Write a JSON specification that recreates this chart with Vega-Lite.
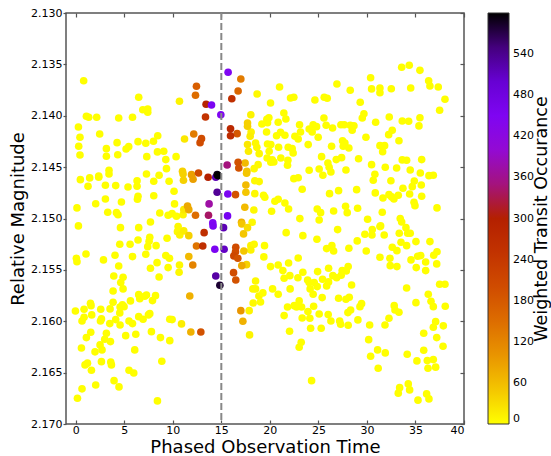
{
"$schema": "https://vega.github.io/schema/vega-lite/v6.json",
"width": 398, "height": 411,
"autosize": {"type": "none"},
"padding": {"left": 66, "top": 13, "right": 87, "bottom": 32},
"config": {"font": "DejaVu Sans", "view": {"stroke": "#555", "strokeWidth": 1.5}},
"data": {"values": [
{"t":0.82,"m":2.13659,"w":0},{"t":6.49,"m":2.13820,"w":0},{"t":1.10,"m":2.14005,"w":0},{"t":1.34,"m":2.14015,"w":0},{"t":2.16,"m":2.14015,"w":0},{"t":4.43,"m":2.14022,"w":0},{"t":5.85,"m":2.14015,"w":0},{"t":6.91,"m":2.13941,"w":0},{"t":7.42,"m":2.13934,"w":0},{"t":7.42,"m":2.13966,"w":0},
{"t":0.28,"m":2.14109,"w":0},{"t":0.44,"m":2.14209,"w":0},{"t":2.47,"m":2.14177,"w":0},{"t":8.45,"m":2.14194,"w":0},{"t":0.31,"m":2.14297,"w":0},{"t":0.44,"m":2.14382,"w":0},{"t":3.16,"m":2.14320,"w":0},{"t":4.26,"m":2.14262,"w":0},{"t":5.19,"m":2.14323,"w":0},{"t":5.46,"m":2.14301,"w":0},
{"t":6.42,"m":2.14252,"w":0},{"t":7.22,"m":2.14268,"w":0},{"t":8.01,"m":2.14248,"w":0},{"t":3.16,"m":2.14394,"w":0},{"t":4.33,"m":2.14379,"w":0},{"t":7.32,"m":2.14398,"w":0},{"t":8.42,"m":2.14352,"w":0},{"t":9.07,"m":2.14346,"w":0},{"t":9.28,"m":2.14427,"w":0},{"t":3.43,"m":2.14531,"w":0},
{"t":3.43,"m":2.14567,"w":0},{"t":9.35,"m":2.14515,"w":0},{"t":0.48,"m":2.14622,"w":0},{"t":1.44,"m":2.14605,"w":0},{"t":1.27,"m":2.14686,"w":0},{"t":2.37,"m":2.14586,"w":0},{"t":2.37,"m":2.14599,"w":0},{"t":3.06,"m":2.14676,"w":0},{"t":4.12,"m":2.14680,"w":0},{"t":5.39,"m":2.14693,"w":0},
{"t":6.32,"m":2.14632,"w":0},{"t":6.32,"m":2.14686,"w":0},{"t":7.29,"m":2.14567,"w":0},{"t":8.04,"m":2.14638,"w":0},{"t":8.59,"m":2.14579,"w":0},{"t":9.62,"m":2.14638,"w":0},{"t":6.42,"m":2.14784,"w":0},{"t":6.36,"m":2.14813,"w":0},{"t":3.06,"m":2.14810,"w":0},{"t":2.06,"m":2.14856,"w":0},
{"t":4.71,"m":2.14839,"w":0},{"t":8.04,"m":2.14778,"w":0},{"t":0.13,"m":2.14897,"w":0},{"t":3.30,"m":2.14939,"w":0},{"t":4.20,"m":2.14943,"w":0},{"t":4.36,"m":2.14963,"w":0},{"t":8.66,"m":2.14946,"w":0},{"t":9.52,"m":2.14968,"w":0},{"t":7.70,"m":2.15034,"w":0},
{"t":0.28,"m":2.15072,"w":0},{"t":4.61,"m":2.15089,"w":0},{"t":6.49,"m":2.15089,"w":0},{"t":4.54,"m":2.15251,"w":0},{"t":5.60,"m":2.15251,"w":0},{"t":6.42,"m":2.15209,"w":0},{"t":7.56,"m":2.15221,"w":0},{"t":7.63,"m":2.15182,"w":0},{"t":7.42,"m":2.15274,"w":0},{"t":8.28,"m":2.15264,"w":0},
{"t":9.41,"m":2.15192,"w":0},{"t":1.06,"m":2.15345,"w":0},{"t":0.07,"m":2.15387,"w":0},{"t":0.13,"m":2.15420,"w":0},{"t":2.86,"m":2.15403,"w":0},{"t":4.05,"m":2.15358,"w":0},{"t":4.43,"m":2.15462,"w":0},{"t":5.85,"m":2.15371,"w":0},{"t":7.22,"m":2.15348,"w":0},{"t":7.70,"m":2.15484,"w":0},
{"t":8.38,"m":2.15430,"w":0},{"t":9.28,"m":2.15361,"w":0},{"t":9.52,"m":2.15478,"w":0},{"t":3.92,"m":2.15559,"w":0},{"t":4.88,"m":2.15572,"w":0},{"t":4.64,"m":2.15624,"w":0},{"t":8.59,"m":2.15569,"w":0},{"t":3.85,"m":2.15705,"w":0},{"t":4.88,"m":2.15685,"w":0},{"t":3.85,"m":2.15815,"w":0},
{"t":4.81,"m":2.15841,"w":0},{"t":4.98,"m":2.15858,"w":0},{"t":5.64,"m":2.15802,"w":0},{"t":6.49,"m":2.15741,"w":0},{"t":6.60,"m":2.15780,"w":0},{"t":7.11,"m":2.15757,"w":0},{"t":7.29,"m":2.15744,"w":0},{"t":7.91,"m":2.15799,"w":0},{"t":8.22,"m":2.15751,"w":0},{"t":-0.03,"m":2.15900,"w":0},
{"t":0.86,"m":2.15883,"w":0},{"t":1.52,"m":2.15825,"w":0},{"t":1.58,"m":2.15848,"w":0},{"t":1.65,"m":2.15938,"w":0},{"t":2.58,"m":2.15883,"w":0},{"t":3.54,"m":2.15880,"w":0},{"t":4.57,"m":2.15861,"w":0},{"t":4.54,"m":2.15919,"w":0},{"t":0.65,"m":2.15997,"w":0},{"t":0.86,"m":2.15961,"w":0},
{"t":2.55,"m":2.15997,"w":0},{"t":2.65,"m":2.15977,"w":0},{"t":3.51,"m":2.16023,"w":0},{"t":4.12,"m":2.15984,"w":0},{"t":4.57,"m":2.16036,"w":0},{"t":5.49,"m":2.15997,"w":0},{"t":5.85,"m":2.16023,"w":0},{"t":6.49,"m":2.15955,"w":0},{"t":6.94,"m":2.15980,"w":0},{"t":7.49,"m":2.15938,"w":0},
{"t":7.63,"m":2.15926,"w":0},{"t":9.69,"m":2.15980,"w":0},{"t":1.10,"m":2.16159,"w":0},{"t":1.55,"m":2.16107,"w":0},{"t":3.16,"m":2.16117,"w":0},{"t":2.99,"m":2.16175,"w":0},{"t":3.58,"m":2.16198,"w":0},{"t":5.15,"m":2.16140,"w":0},{"t":6.19,"m":2.16126,"w":0},{"t":7.80,"m":2.16101,"w":0},
{"t":8.73,"m":2.16159,"w":0},{"t":9.69,"m":2.16189,"w":0},{"t":0.59,"m":2.16260,"w":0},{"t":1.99,"m":2.16298,"w":0},{"t":2.51,"m":2.16230,"w":0},{"t":2.71,"m":2.16279,"w":0},{"t":6.08,"m":2.16279,"w":0},{"t":0.96,"m":2.16425,"w":0},{"t":1.21,"m":2.16408,"w":0},{"t":1.62,"m":2.16477,"w":0},
{"t":2.65,"m":2.16393,"w":0},{"t":3.61,"m":2.16396,"w":0},{"t":3.68,"m":2.16425,"w":0},{"t":5.49,"m":2.16477,"w":0},{"t":5.98,"m":2.16503,"w":0},{"t":8.87,"m":2.16389,"w":0},{"t":3.95,"m":2.16578,"w":0},{"t":4.46,"m":2.16639,"w":0},{"t":2.06,"m":2.16620,"w":0},{"t":0.65,"m":2.16658,"w":0},
{"t":0.18,"m":2.16749,"w":0},{"t":8.42,"m":2.16775,"w":0},
{"t":21.00,"m":2.13720,"w":0},{"t":22.13,"m":2.13827,"w":0},{"t":22.47,"m":2.13820,"w":0},{"t":24.64,"m":2.13847,"w":0},{"t":25.60,"m":2.13820,"w":0},{"t":25.91,"m":2.13830,"w":0},{"t":26.91,"m":2.13691,"w":0},{"t":28.28,"m":2.13752,"w":0},{"t":30.38,"m":2.13630,"w":0},{"t":30.48,"m":2.13739,"w":0},
{"t":31.34,"m":2.13730,"w":0},{"t":31.34,"m":2.13775,"w":0},{"t":29.31,"m":2.13869,"w":0},{"t":21.44,"m":2.13973,"w":0},{"t":21.65,"m":2.14031,"w":0},{"t":20.86,"m":2.14063,"w":0},{"t":25.57,"m":2.14022,"w":0},{"t":29.69,"m":2.13980,"w":0},{"t":29.52,"m":2.14022,"w":0},{"t":30.90,"m":2.14063,"w":0},
{"t":23.06,"m":2.14087,"w":0},{"t":24.46,"m":2.14087,"w":0},{"t":24.81,"m":2.14106,"w":0},{"t":24.05,"m":2.14129,"w":0},{"t":24.36,"m":2.14158,"w":0},{"t":25.80,"m":2.14093,"w":0},{"t":26.46,"m":2.14119,"w":0},{"t":27.32,"m":2.14087,"w":0},{"t":27.66,"m":2.14087,"w":0},{"t":28.28,"m":2.14093,"w":0},
{"t":28.66,"m":2.14097,"w":0},{"t":28.48,"m":2.14141,"w":0},{"t":20.69,"m":2.14194,"w":0},{"t":21.10,"m":2.14161,"w":0},{"t":21.55,"m":2.14190,"w":0},{"t":23.16,"m":2.14158,"w":0},{"t":22.58,"m":2.14200,"w":0},{"t":22.92,"m":2.14226,"w":0},{"t":24.98,"m":2.14209,"w":0},{"t":29.90,"m":2.14209,"w":0},
{"t":20.10,"m":2.14281,"w":0},{"t":20.90,"m":2.14307,"w":0},{"t":21.89,"m":2.14307,"w":0},{"t":22.30,"m":2.14320,"w":0},{"t":22.40,"m":2.14362,"w":0},{"t":21.13,"m":2.14411,"w":0},{"t":21.86,"m":2.14433,"w":0},{"t":21.82,"m":2.14482,"w":0},{"t":20.41,"m":2.14450,"w":0},{"t":23.95,"m":2.14281,"w":0},
{"t":26.36,"m":2.14297,"w":0},{"t":27.49,"m":2.14243,"w":0},{"t":27.73,"m":2.14265,"w":0},{"t":27.56,"m":2.14297,"w":0},{"t":28.14,"m":2.14314,"w":0},{"t":25.33,"m":2.14398,"w":0},{"t":25.98,"m":2.14460,"w":0},{"t":26.11,"m":2.14501,"w":0},{"t":26.29,"m":2.14547,"w":0},{"t":25.08,"m":2.14518,"w":0},
{"t":25.46,"m":2.14579,"w":0},{"t":24.05,"m":2.14531,"w":0},{"t":26.84,"m":2.14427,"w":0},{"t":27.39,"m":2.14408,"w":0},{"t":27.84,"m":2.14528,"w":0},{"t":29.14,"m":2.14418,"w":0},{"t":30.48,"m":2.14476,"w":0},{"t":30.82,"m":2.14569,"w":0},{"t":30.65,"m":2.14628,"w":0},{"t":22.47,"m":2.14612,"w":0},
{"t":22.92,"m":2.14603,"w":0},{"t":23.33,"m":2.14715,"w":0},{"t":26.15,"m":2.14758,"w":0},{"t":27.08,"m":2.14729,"w":0},{"t":28.94,"m":2.14719,"w":0},{"t":30.86,"m":2.14751,"w":0},{"t":20.52,"m":2.14832,"w":0},{"t":20.86,"m":2.14813,"w":0},{"t":21.55,"m":2.14849,"w":0},{"t":21.93,"m":2.14907,"w":0},
{"t":24.88,"m":2.14907,"w":0},{"t":25.23,"m":2.14943,"w":0},{"t":25.08,"m":2.15014,"w":0},{"t":26.57,"m":2.14927,"w":0},{"t":27.80,"m":2.14881,"w":0},{"t":27.97,"m":2.14943,"w":0},{"t":29.04,"m":2.14900,"w":0},{"t":23.09,"m":2.15001,"w":0},{"t":30.07,"m":2.15007,"w":0},
{"t":26.98,"m":2.15108,"w":0},{"t":21.68,"m":2.15138,"w":0},{"t":23.40,"m":2.15167,"w":0},{"t":24.85,"m":2.15202,"w":0},{"t":25.85,"m":2.15293,"w":0},{"t":26.39,"m":2.15264,"w":0},{"t":26.57,"m":2.15316,"w":0},{"t":28.14,"m":2.15289,"w":0},{"t":29.00,"m":2.15218,"w":0},{"t":29.79,"m":2.15153,"w":0},
{"t":30.55,"m":2.15108,"w":0},{"t":30.52,"m":2.15160,"w":0},{"t":31.34,"m":2.15079,"w":0},{"t":29.93,"m":2.15316,"w":0},{"t":31.34,"m":2.15377,"w":0},{"t":22.92,"m":2.15384,"w":0},{"t":21.93,"m":2.15433,"w":0},{"t":20.86,"m":2.15452,"w":0},{"t":21.34,"m":2.15507,"w":0},{"t":21.47,"m":2.15581,"w":0},
{"t":22.06,"m":2.15556,"w":0},{"t":22.89,"m":2.15576,"w":0},{"t":23.40,"m":2.15523,"w":0},{"t":23.89,"m":2.15598,"w":0},{"t":24.05,"m":2.15624,"w":0},{"t":24.57,"m":2.15624,"w":0},{"t":24.88,"m":2.15663,"w":0},{"t":24.15,"m":2.15685,"w":0},{"t":24.46,"m":2.15737,"w":0},{"t":24.92,"m":2.15517,"w":0},
{"t":25.43,"m":2.15591,"w":0},{"t":25.85,"m":2.15656,"w":0},{"t":26.05,"m":2.15617,"w":0},{"t":26.05,"m":2.15484,"w":0},{"t":26.49,"m":2.15556,"w":0},{"t":26.88,"m":2.15576,"w":0},{"t":27.45,"m":2.15507,"w":0},{"t":27.35,"m":2.15552,"w":0},{"t":27.87,"m":2.15510,"w":0},{"t":28.07,"m":2.15468,"w":0},
{"t":28.42,"m":2.15647,"w":0},{"t":20.86,"m":2.15737,"w":0},{"t":22.09,"m":2.15685,"w":0},{"t":21.82,"m":2.15861,"w":0},{"t":22.51,"m":2.15848,"w":0},{"t":22.75,"m":2.15861,"w":0},{"t":23.02,"m":2.15802,"w":0},{"t":23.27,"m":2.15861,"w":0},{"t":21.47,"m":2.15945,"w":0},{"t":23.33,"m":2.15968,"w":0},
{"t":23.92,"m":2.15906,"w":0},{"t":24.12,"m":2.15971,"w":0},{"t":24.51,"m":2.15854,"w":0},{"t":25.39,"m":2.15770,"w":0},{"t":25.08,"m":2.15929,"w":0},{"t":26.01,"m":2.15935,"w":0},{"t":26.29,"m":2.15997,"w":0},{"t":27.08,"m":2.15776,"w":0},{"t":27.84,"m":2.15786,"w":0},{"t":28.18,"m":2.15766,"w":0},
{"t":28.04,"m":2.15916,"w":0},{"t":28.32,"m":2.15890,"w":0},{"t":27.19,"m":2.15997,"w":0},{"t":27.29,"m":2.16029,"w":0},{"t":28.07,"m":2.16039,"w":0},{"t":29.07,"m":2.15987,"w":0},{"t":29.28,"m":2.15858,"w":0},{"t":29.45,"m":2.15829,"w":0},{"t":22.03,"m":2.16097,"w":0},{"t":24.20,"m":2.16068,"w":0},
{"t":25.29,"m":2.16068,"w":0},{"t":30.28,"m":2.16036,"w":0},{"t":30.18,"m":2.16179,"w":0},{"t":23.23,"m":2.16204,"w":0},{"t":23.02,"m":2.16253,"w":0},{"t":31.10,"m":2.16279,"w":0},{"t":30.38,"m":2.16340,"w":0},{"t":31.16,"m":2.16457,"w":0},{"t":24.30,"m":2.16578,"w":0},
{"t":33.58,"m":2.13528,"w":0},{"t":34.36,"m":2.13509,"w":0},{"t":35.46,"m":2.13558,"w":0},{"t":36.36,"m":2.13659,"w":0},{"t":36.49,"m":2.13710,"w":0},{"t":37.35,"m":2.13720,"w":0},{"t":38.04,"m":2.13840,"w":0},{"t":37.49,"m":2.13947,"w":0},{"t":32.51,"m":2.13737,"w":0},{"t":34.51,"m":2.13730,"w":0},
{"t":32.30,"m":2.14012,"w":0},{"t":33.64,"m":2.14051,"w":0},{"t":34.30,"m":2.14054,"w":0},{"t":35.46,"m":2.14019,"w":0},{"t":35.36,"m":2.14099,"w":0},{"t":32.61,"m":2.14141,"w":0},{"t":32.24,"m":2.14184,"w":0},{"t":33.30,"m":2.14243,"w":0},{"t":31.34,"m":2.14291,"w":0},{"t":31.82,"m":2.14291,"w":0},
{"t":31.62,"m":2.14350,"w":0},{"t":33.64,"m":2.14430,"w":0},{"t":34.09,"m":2.14433,"w":0},{"t":35.64,"m":2.14427,"w":0},{"t":31.89,"m":2.14501,"w":0},{"t":33.06,"m":2.14508,"w":0},{"t":34.46,"m":2.14528,"w":0},{"t":35.50,"m":2.14557,"w":0},{"t":36.39,"m":2.14583,"w":0},{"t":36.84,"m":2.14579,"w":0},
{"t":32.47,"m":2.14632,"w":0},{"t":34.88,"m":2.14635,"w":0},{"t":34.67,"m":2.14690,"w":0},{"t":34.40,"m":2.14761,"w":0},{"t":35.60,"m":2.14674,"w":0},{"t":33.71,"m":2.14706,"w":0},{"t":31.65,"m":2.14800,"w":0},{"t":32.27,"m":2.14768,"w":0},{"t":32.55,"m":2.14790,"w":0},{"t":32.78,"m":2.14810,"w":0},
{"t":33.23,"m":2.14774,"w":0},{"t":35.64,"m":2.14784,"w":0},{"t":34.85,"m":2.14842,"w":0},{"t":34.95,"m":2.14875,"w":0},{"t":37.22,"m":2.14897,"w":0},{"t":31.58,"m":2.14939,"w":0},{"t":33.43,"m":2.15001,"w":0},{"t":33.58,"m":2.15034,"w":0},
{"t":34.02,"m":2.15089,"w":0},{"t":34.20,"m":2.15144,"w":0},{"t":34.46,"m":2.15144,"w":0},{"t":31.41,"m":2.15072,"w":0},{"t":31.78,"m":2.15160,"w":0},{"t":33.33,"m":2.15144,"w":0},{"t":35.05,"m":2.15225,"w":0},{"t":36.49,"m":2.15225,"w":0},{"t":33.51,"m":2.15231,"w":0},{"t":34.09,"m":2.15264,"w":0},
{"t":32.61,"m":2.15280,"w":0},{"t":33.09,"m":2.15313,"w":0},{"t":32.37,"m":2.15387,"w":0},{"t":32.40,"m":2.15459,"w":0},{"t":33.09,"m":2.15468,"w":0},{"t":34.54,"m":2.15403,"w":0},{"t":35.23,"m":2.15367,"w":0},{"t":35.54,"m":2.15361,"w":0},{"t":35.08,"m":2.15478,"w":0},{"t":36.05,"m":2.15423,"w":0},
{"t":36.05,"m":2.15507,"w":0},{"t":36.88,"m":2.15358,"w":0},{"t":37.22,"m":2.15323,"w":0},{"t":37.19,"m":2.15442,"w":0},{"t":34.09,"m":2.15676,"w":0},{"t":37.49,"m":2.15640,"w":0},{"t":38.04,"m":2.15640,"w":0},{"t":36.32,"m":2.15737,"w":0},{"t":36.60,"m":2.15805,"w":0},{"t":36.84,"m":2.15858,"w":0},
{"t":38.07,"m":2.15854,"w":0},{"t":35.05,"m":2.15819,"w":0},{"t":32.81,"m":2.15848,"w":0},{"t":32.89,"m":2.15890,"w":0},{"t":33.30,"m":2.15912,"w":0},{"t":32.27,"m":2.15971,"w":0},{"t":31.86,"m":2.16036,"w":0},{"t":37.08,"m":2.16004,"w":0},{"t":36.84,"m":2.16058,"w":0},{"t":37.87,"m":2.16045,"w":0},
{"t":35.85,"m":2.16117,"w":0},{"t":37.19,"m":2.16159,"w":0},{"t":37.84,"m":2.16243,"w":0},{"t":31.89,"m":2.16308,"w":0},{"t":34.15,"m":2.16321,"w":0},{"t":35.85,"m":2.16282,"w":0},{"t":35.15,"m":2.16386,"w":0},{"t":36.22,"m":2.16383,"w":0},{"t":36.84,"m":2.16373,"w":0},{"t":36.29,"m":2.16457,"w":0},
{"t":37.08,"m":2.16447,"w":0},{"t":33.37,"m":2.16646,"w":0},{"t":33.23,"m":2.16700,"w":0},{"t":34.26,"m":2.16610,"w":0},{"t":34.40,"m":2.16668,"w":0},{"t":35.26,"m":2.16768,"w":0},{"t":36.15,"m":2.16707,"w":0},{"t":36.39,"m":2.16756,"w":0},
{"t":10.69,"m":2.13859,"w":10},{"t":18.69,"m":2.13788,"w":5},{"t":20.07,"m":2.13876,"w":0},{"t":18.04,"m":2.13990,"w":10},{"t":11.21,"m":2.14226,"w":20},{"t":18.07,"m":2.14158,"w":10},{"t":17.97,"m":2.14200,"w":15},{"t":19.18,"m":2.14080,"w":0},{"t":19.69,"m":2.14034,"w":0},{"t":19.90,"m":2.14019,"w":0},
{"t":19.76,"m":2.14067,"w":0},{"t":19.66,"m":2.14158,"w":0},{"t":17.70,"m":2.14281,"w":20},{"t":17.80,"m":2.14346,"w":15},{"t":18.53,"m":2.14265,"w":5},{"t":18.66,"m":2.14307,"w":5},{"t":18.90,"m":2.14369,"w":5},{"t":19.76,"m":2.14275,"w":0},{"t":19.93,"m":2.14346,"w":0},{"t":19.72,"m":2.14411,"w":0},
{"t":20.24,"m":2.14430,"w":0},{"t":10.34,"m":2.14398,"w":0},{"t":18.38,"m":2.14515,"w":5},{"t":18.79,"m":2.14476,"w":5},{"t":20.10,"m":2.14453,"w":0},{"t":18.45,"m":2.14632,"w":5},{"t":18.90,"m":2.14641,"w":5},{"t":10.13,"m":2.14735,"w":0},{"t":18.45,"m":2.14758,"w":5},{"t":19.35,"m":2.14774,"w":0},
{"t":19.48,"m":2.14793,"w":0},{"t":10.18,"m":2.14858,"w":0},{"t":18.35,"m":2.14917,"w":5},{"t":20.18,"m":2.14929,"w":0},{"t":9.93,"m":2.14953,"w":0},{"t":10.38,"m":2.14978,"w":0},{"t":11.06,"m":2.14963,"w":10},{"t":11.13,"m":2.14914,"w":20},{"t":18.18,"m":2.15037,"w":5},
{"t":10.55,"m":2.15079,"w":5},{"t":10.48,"m":2.15128,"w":5},{"t":10.72,"m":2.15160,"w":10},{"t":11.13,"m":2.15121,"w":15},{"t":18.04,"m":2.15264,"w":10},{"t":18.38,"m":2.15251,"w":5},{"t":18.04,"m":2.15306,"w":10},{"t":19.45,"m":2.15264,"w":0},{"t":19.38,"m":2.15374,"w":0},{"t":20.07,"m":2.15468,"w":0},
{"t":9.66,"m":2.15387,"w":0},{"t":10.69,"m":2.15452,"w":5},{"t":10.65,"m":2.15523,"w":5},{"t":18.53,"m":2.15608,"w":5},{"t":18.25,"m":2.15685,"w":5},{"t":18.53,"m":2.15685,"w":5},{"t":18.87,"m":2.15754,"w":5},{"t":19.28,"m":2.15724,"w":0},{"t":19.04,"m":2.15812,"w":0},{"t":18.28,"m":2.15822,"w":5},
{"t":20.28,"m":2.15685,"w":0},{"t":17.87,"m":2.15897,"w":10},{"t":9.93,"m":2.15984,"w":0},{"t":10.90,"m":2.16026,"w":15},{"t":17.91,"m":2.16133,"w":10},
{"t":17.70,"m":2.14070,"w":40},{"t":17.70,"m":2.14102,"w":40},{"t":11.00,"m":2.14540,"w":40},{"t":11.06,"m":2.14567,"w":40},{"t":11.10,"m":2.14628,"w":40},{"t":17.63,"m":2.14540,"w":50},{"t":17.60,"m":2.14560,"w":50},{"t":17.45,"m":2.14460,"w":60},{"t":17.53,"m":2.14674,"w":60},{"t":17.53,"m":2.14745,"w":50},
{"t":17.42,"m":2.14891,"w":60},{"t":17.08,"m":2.15037,"w":70},{"t":11.65,"m":2.15167,"w":40},{"t":17.11,"m":2.15053,"w":50},{"t":17.70,"m":2.15089,"w":30},{"t":17.29,"m":2.15150,"w":50},{"t":17.32,"m":2.15316,"w":50},{"t":11.65,"m":2.15371,"w":60},{"t":17.60,"m":2.15449,"w":40},{"t":11.75,"m":2.15754,"w":70},
{"t":17.22,"m":2.16000,"w":70},{"t":11.86,"m":2.16104,"w":70},{"t":11.52,"m":2.14878,"w":80},{"t":11.65,"m":2.14914,"w":80},{"t":11.93,"m":2.14573,"w":90},{"t":12.09,"m":2.14618,"w":90},{"t":17.11,"m":2.15459,"w":80},{"t":17.01,"m":2.15897,"w":100},
{"t":17.01,"m":2.13642,"w":130},{"t":12.34,"m":2.13801,"w":150},{"t":16.73,"m":2.13759,"w":160},{"t":12.16,"m":2.14177,"w":130},{"t":12.34,"m":2.14968,"w":150},{"t":12.44,"m":2.15267,"w":140},{"t":12.06,"m":2.15452,"w":120},
{"t":12.44,"m":2.13713,"w":170},{"t":16.63,"m":2.14174,"w":180},{"t":12.96,"m":2.14223,"w":200},{"t":12.81,"m":2.14262,"w":200},{"t":16.73,"m":2.14453,"w":190},{"t":16.80,"m":2.14508,"w":190},{"t":12.65,"m":2.14557,"w":200},{"t":16.46,"m":2.14768,"w":190},
{"t":16.49,"m":2.15280,"w":200},{"t":16.46,"m":2.15323,"w":200},{"t":16.29,"m":2.15364,"w":210},{"t":16.70,"m":2.15387,"w":190},{"t":16.26,"m":2.15527,"w":200},{"t":16.49,"m":2.15598,"w":190},{"t":12.89,"m":2.16104,"w":190},
{"t":16.08,"m":2.13834,"w":260},{"t":13.43,"m":2.13888,"w":290},{"t":13.37,"m":2.14012,"w":250},{"t":15.95,"m":2.14126,"w":280},{"t":15.95,"m":2.14194,"w":270},{"t":13.64,"m":2.14599,"w":300},{"t":13.23,"m":2.15138,"w":260},{"t":13.09,"m":2.15267,"w":260},
{"t":15.60,"m":2.14479,"w":350},{"t":13.74,"m":2.14858,"w":370},{"t":13.68,"m":2.14968,"w":340},
{"t":15.70,"m":2.13577,"w":450},{"t":13.99,"m":2.13895,"w":460},{"t":14.95,"m":2.13990,"w":450},{"t":15.67,"m":2.14761,"w":460},{"t":15.64,"m":2.14975,"w":470},{"t":14.12,"m":2.15043,"w":450},{"t":14.15,"m":2.15072,"w":460},{"t":14.33,"m":2.15299,"w":460},
{"t":15.23,"m":2.15089,"w":520},{"t":15.29,"m":2.15299,"w":510},{"t":14.57,"m":2.14745,"w":540},{"t":14.43,"m":2.15559,"w":530},{"t":14.43,"m":2.14599,"w":520},{"t":14.57,"m":2.14573,"w":590},{"t":14.67,"m":2.14583,"w":600},{"t":14.85,"m":2.15650,"w":580}
]},
"layer": [
{"mark": {"type": "point", "filled": true, "shape": "circle", "size": 58, "opacity": 1, "strokeWidth": 0},
 "encoding": {
  "x": {"field": "t", "type": "quantitative", "scale": {"domain": [-1, 40], "nice": false, "zero": false},
        "axis": {"orient": "bottom", "values": [0,5,10,15,20,25,30,35,40], "title": "Phased Observation Time", "titleFontSize": 18, "titleFontWeight": "normal", "titleColor": "#000", "titlePadding": 3, "labelFontSize": 11, "labelColor": "#000", "tickSize": -4, "tickColor": "#555", "tickWidth": 1.2, "domain": false, "grid": false, "labelPadding": 4}},
  "y": {"field": "m", "type": "quantitative", "scale": {"domain": [2.13, 2.17], "reverse": true, "nice": false, "zero": false},
        "axis": {"orient": "left", "values": [2.13,2.135,2.14,2.145,2.15,2.155,2.16,2.165,2.17], "format": ".3f", "title": "Relative Magnitude", "titleFontSize": 18, "titleFontWeight": "normal", "titleColor": "#000", "titlePadding": 3, "labelFontSize": 11, "labelColor": "#000", "tickSize": 3, "tickColor": "#555", "tickWidth": 1.2, "domain": false, "grid": false, "labelPadding": 1}},
  "color": {"field": "w", "type": "quantitative",
        "scale": {"domain": [0,60,120,180,240,300,360,420,480,540,600], "range": ["#ffff00","#f2ba00","#e48300","#d55700","#c53700","#b42000","#a11096","#8c07f2","#7202f2","#510096","#000000"], "interpolate": "rgb"},
        "legend": {"orient": "none", "legendX": 422, "legendY": 0, "direction": "vertical", "gradientLength": 411, "gradientThickness": 21, "values": [0,60,120,180,240,300,360,420,480,540], "labelOverlap": false, "labelFontSize": 11, "labelColor": "#000", "labelOffset": 4, "gradientStrokeColor": "#333", "gradientStrokeWidth": 1, "title": null}}
 }},
{"data": {"values": [{"t": 0, "m": 2.15}]},
 "mark": {"type": "point", "opacity": 0},
 "encoding": {
  "x": {"field": "t", "type": "quantitative", "axis": {"orient": "top", "values": [0,5,10,15,20,25,30,35,40], "labels": false, "title": null, "tickSize": -4, "tickColor": "#555", "tickWidth": 1.2, "domain": false, "grid": false}},
  "y": {"field": "m", "type": "quantitative", "axis": {"orient": "right", "values": [2.13,2.135,2.14,2.145,2.15,2.155,2.16,2.165,2.17], "labels": false, "title": "Weighted Transit Occurance", "titleAngle": 270, "titleBaseline": "alphabetic", "titleAlign": "center", "titleAnchor": "middle", "titlePadding": 82, "titleFontSize": 17.5, "titleFontWeight": "normal", "titleColor": "#000", "tickSize": -4, "tickColor": "#555", "tickWidth": 1.2, "domain": false, "grid": false}}
 }},
{"data": {"values": [{"t": 15}]},
 "mark": {"type": "rule", "color": "#888888", "strokeWidth": 2, "strokeDash": [7, 3]},
 "encoding": {"x": {"field": "t", "type": "quantitative", "axis": null}}}
],
"resolve": {"axis": {"x": "independent", "y": "independent"}}
}
